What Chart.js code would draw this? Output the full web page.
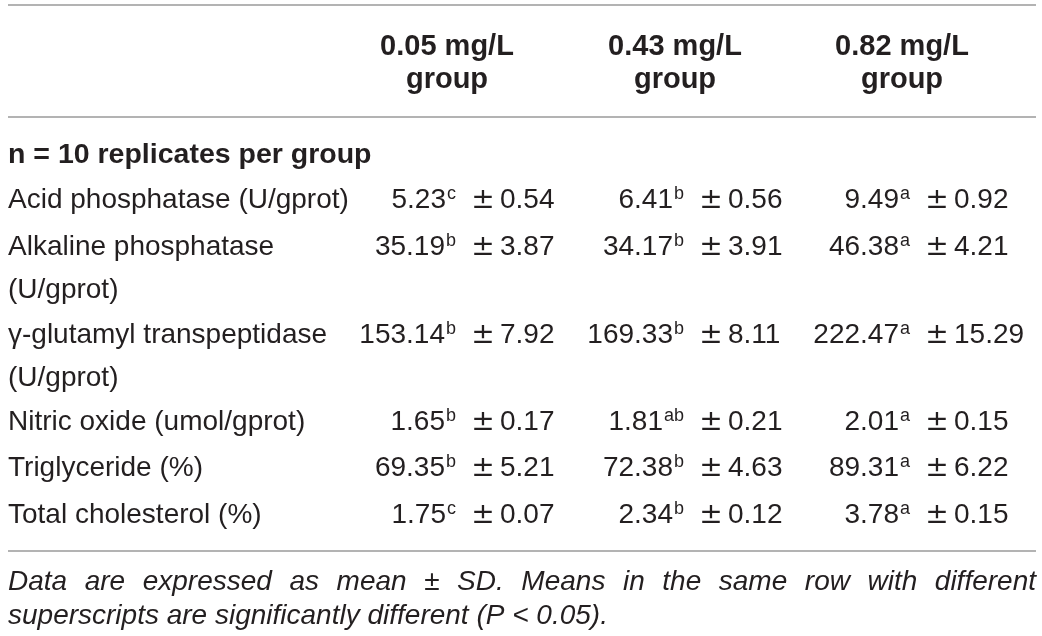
<!DOCTYPE html>
<html>
<head>
<meta charset="utf-8">
<script src="https://cdn.jsdelivr.net/npm/chart.js@4.4.1/dist/chart.umd.min.js"></script>
<style>
  html, body { margin: 0; padding: 0; background: #fff; }
  #wrap { width: 1042px; height: 636px; position: relative; }
</style>
</head>
<body>
<div id="wrap"><canvas id="tbl"></canvas></div>
<script>
// table content
const groupLabels = [["0.05 mg/L", "group"], ["0.43 mg/L", "group"], ["0.82 mg/L", "group"]];
const sectionLabel = "n = 10 replicates per group";
const paramLabels = [
    ["Acid phosphatase (U/gprot)"],
    ["Alkaline phosphatase", "(U/gprot)"],
    ["\u03b3-glutamyl transpeptidase", "(U/gprot)"],
    ["Nitric oxide (umol/gprot)"],
    ["Triglyceride (%)"],
    ["Total cholesterol (%)"]
];
const mean005 = [5.23, 35.19, 153.14, 1.65, 69.35, 1.75];
const sd005 = [0.54, 3.87, 7.92, 0.17, 5.21, 0.07];
const sup005 = ["c", "b", "b", "b", "b", "c"];
const mean043 = [6.41, 34.17, 169.33, 1.81, 72.38, 2.34];
const sd043 = [0.56, 3.91, 8.11, 0.21, 4.63, 0.12];
const sup043 = ["b", "b", "b", "ab", "b", "b"];
const mean082 = [9.49, 46.38, 222.47, 2.01, 89.31, 3.78];
const sd082 = [0.92, 4.21, 15.29, 0.15, 6.22, 0.15];
const sup082 = ["a", "a", "a", "a", "a", "a"];
const footnote = [
    "Data are expressed as mean \u00b1 SD. Means in the same row with different",
    "superscripts are significantly different (P < 0.05)."
];

const columns = [
    { mean: mean005, sd: sd005, sup: sup005 },
    { mean: mean043, sd: sd043, sup: sup043 },
    { mean: mean082, sd: sd082, sup: sup082 }
];

// layout (in scale units, 1 unit = 1 px)
const leftX = 8, rightX = 1036;
const ruleY = [5, 117, 551];
const headerBase = [55, 88];
const sectionBase = 163;
const rowBase = [208, 255, 343, 430, 476, 523];
const lineGap = 43;
const headCenter = [447, 675, 902];
const pmCenter = [483, 711, 937];
const footBase = [590, 624];

const FONT = "'Liberation Sans', Arial, Helvetica, sans-serif";
const INK = "#231f20";

const tablePlugin = {
    id: "tablePlugin",
    afterDraw(chart) {
        const ctx = chart.ctx;
        const sx = chart.scales.x, sy = chart.scales.y;
        const px = v => sx.getPixelForValue(v);
        const py = v => sy.getPixelForValue(v);
        ctx.save();

        // rules
        ctx.strokeStyle = "#9a9a9a";
        ctx.lineWidth = 1.5;
        ruleY.forEach(r => {
            ctx.beginPath();
            ctx.moveTo(px(leftX), py(r));
            ctx.lineTo(px(rightX), py(r));
            ctx.stroke();
        });

        ctx.fillStyle = INK;
        ctx.textBaseline = "alphabetic";

        // header
        ctx.font = "bold 29px " + FONT;
        ctx.textAlign = "center";
        groupLabels.forEach((g, i) => {
            g.forEach((line, k) => ctx.fillText(line, px(headCenter[i]), py(headerBase[k])));
        });

        ctx.font = "bold 28.5px " + FONT;
        ctx.textAlign = "left";
        ctx.fillText(sectionLabel, px(leftX), py(sectionBase));

        // row labels
        ctx.font = "28px " + FONT;
        paramLabels.forEach((lines, r) => {
            lines.forEach((line, k) => ctx.fillText(line, px(leftX), py(rowBase[r] + k * lineGap)));
        });

        // values, aligned on the plus-minus sign
        columns.forEach((col, c) => {
            const p = pmCenter[c];
            col.mean.forEach((m, r) => {
                const base = py(rowBase[r]);
                ctx.font = "28px 'DejaVu Sans', " + FONT;
                ctx.textAlign = "center";
                ctx.fillText("\u00b1", px(p), base);
                ctx.font = "28px " + FONT;
                ctx.textAlign = "left";
                ctx.fillText(col.sd[r].toFixed(2), px(p + 17), base);
                ctx.font = "18px " + FONT;
                ctx.textAlign = "right";
                ctx.fillText(col.sup[r], px(p - 27), base - 9);
                const supW = ctx.measureText(col.sup[r]).width;
                ctx.font = "28px " + FONT;
                ctx.fillText(m.toFixed(2), px(p - 28) - supW, base);
            });
        });

        // footnote, first line justified
        ctx.font = "italic 28px " + FONT;
        ctx.textAlign = "left";
        const words = footnote[0].split(" ");
        const widths = words.map(w => ctx.measureText(w).width);
        const total = widths.reduce((a, b) => a + b, 0);
        const gap = (px(rightX) - px(leftX) - total) / (words.length - 1);
        let cx = px(leftX);
        words.forEach((w, i) => {
            ctx.fillText(w, cx, py(footBase[0]));
            cx += widths[i] + gap;
        });
        ctx.fillText(footnote[1], px(leftX), py(footBase[1]));

        ctx.restore();
    }
};

new Chart(document.getElementById("tbl"), {
    type: "scatter",
    data: { datasets: [] },
    options: {
        responsive: true,
        maintainAspectRatio: false,
        animation: false,
        layout: { padding: 0 },
        plugins: { legend: { display: false }, tooltip: { enabled: false } },
        scales: {
            x: { type: "linear", min: 0, max: 1042, display: false },
            y: { type: "linear", min: 0, max: 636, reverse: true, display: false }
        }
    },
    plugins: [tablePlugin]
});
</script>
</body>
</html>
